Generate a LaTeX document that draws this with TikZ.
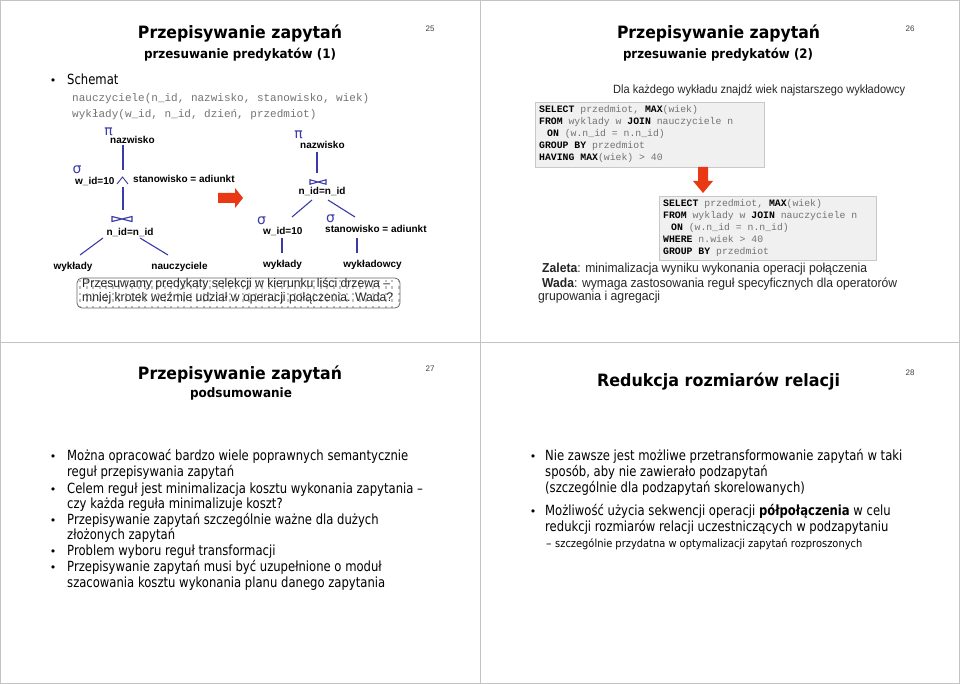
\documentclass[tikz,border=0pt]{standalone}
\usepackage{fontspec}
\usepackage{graphicx}
\setmainfont{DejaVu Sans}
\newfontfamily\tah{DejaVu Sans}
\newfontfamily\hel{Liberation Sans}
\newfontfamily\cour{Liberation Mono}
\newfontfamily\djs{DejaVu Sans}
\newcommand\fw[2]{\resizebox{#1pt}{\height}{#2}}
\newcommand\kw[1]{{\color{black}\bfseries #1}}
\newlength\reflen
\newcommand\bw[1]{\scalebox{\bsc}[1]{#1}}
\definecolor{tblue}{RGB}{58,58,168}
\definecolor{tred}{RGB}{232,56,20}
\definecolor{codegray}{RGB}{115,115,115}
\definecolor{boxfill}{RGB}{240,240,240}
\definecolor{boxline}{RGB}{200,200,200}
\definecolor{framec}{RGB}{195,195,195}
\begin{document}
\settowidth{\reflen}{\tah\fontsize{14}{14}\selectfont Można opracować bardzo wiele poprawnych semantycznie}
\pgfmathsetmacro\bsc{341/\reflen}
\begin{tikzpicture}[x=1pt,y=-1pt,
 t/.style={inner sep=0pt, anchor=west, text height=.75em, text depth=.25em},
 ttl/.style={t, anchor=center, font=\tah\bfseries\fontsize{17}{17}\selectfont},
 sub/.style={t, anchor=center, font=\tah\bfseries\fontsize{13}{13}\selectfont},
 pnum/.style={t, anchor=center, font=\hel\fontsize{8}{8}\selectfont, text=black!75},
 body/.style={t, font=\tah\fontsize{14}{14}\selectfont},
 small/.style={t, font=\tah\fontsize{11}{11}\selectfont},
 bul/.style={t, anchor=center, font=\tah\fontsize{11}{11}\selectfont},
 lbl/.style={t, anchor=center, font=\hel\bfseries\fontsize{10}{10}\selectfont},
 lblw/.style={lbl, anchor=west},
 greek/.style={inner sep=0pt, anchor=center, text=tblue, font=\djs\fontsize{14}{14}\selectfont},
 tree/.style={draw=tblue, line width=1.1pt},
 code/.style={t, font=\cour\fontsize{9.8}{9.8}\selectfont, text=codegray},
 schema/.style={t, font=\cour\fontsize{11}{11}\selectfont, text=codegray},
 codebox/.style={fill=boxfill, draw=boxline, line width=0.8pt},
 hv/.style={t, font=\hel\fontsize{12.5}{12.5}\selectfont, text=black!85},
 redarrow/.style={fill=tred},
]
\useasboundingbox (0,0) rectangle (960,684);
\fill[white] (0,0) rectangle (960,684);
\draw[framec, line width=1pt] (0.5,0.5) rectangle (959.5,683.5);
\draw[framec, line width=1pt] (480,0) -- (480,684);
\draw[framec, line width=1pt] (0,342) -- (960,342);

% ================= slide 25 =================
\node[ttl] (t25) at (240,36) {\fw{204}{Przepisywanie zapytań}};
\node[sub] (s25) at (240,56) {\fw{192}{przesuwanie predykatów (1)}};
\node[pnum] (p25) at (430,29) {25};
\node[bul] (b25) at (53,82) {•};
\node[body] (sch) at (67,82) {\bw{Schemat}};
\node[schema] (sc1) at (72,99) {nauczyciele(n\_id, nazwisko, stanowisko, wiek)};
\node[schema] (sc2) at (72,115) {wykłady(w\_id, n\_id, dzień, przedmiot)};

% left tree
\node[greek] (lpi) at (108.5,131.5) {π};
\node[lblw] (lnaz) at (110,141) {nazwisko};
\coordinate (la1) at (123,145); \coordinate (la2) at (123,170);
\draw[tree] (la1) -- (la2);
\node[greek] (lsig) at (77,170) {σ};
\node[lblw] (lwid) at (75,182) {w\_id=10};
\coordinate (land) at (122.5,177);
\draw[tree, line width=0.9pt] ([xshift=-5.5pt,yshift=-7pt]land) -- (land) -- ([xshift=5.5pt,yshift=-7pt]land);
\node[lblw] (lsta) at (133,180) {stanowisko = adiunkt};
\coordinate (lb1) at (123,187); \coordinate (lb2) at (123,210);
\draw[tree] (lb1) -- (lb2);
\coordinate (ljoin) at (122,219);
\draw[tree] ([xshift=-10pt,yshift=-2.5pt]ljoin) -- ([xshift=-10pt,yshift=2.5pt]ljoin) -- ([xshift=10pt,yshift=-2.5pt]ljoin) -- ([xshift=10pt,yshift=2.5pt]ljoin) -- cycle;
\node[lbl] (lnid) at (130,233) {n\_id=n\_id};
\node[lbl] (lwyk) at (73,267) {wykłady};
\node[lbl] (lnau) at (179.5,267) {nauczyciele};
\coordinate (lc1) at (103,238); \coordinate (lc2) at (80,255);
\coordinate (lc3) at (140,238); \coordinate (lc4) at (168,255);
\draw[tree] (lc1) -- (lc2);
\draw[tree] (lc3) -- (lc4);

% arrow between trees
\fill[redarrow] (218,193) -- (235,193) -- (235,188) -- (243,198) -- (235,208) -- (235,203) -- (218,203) -- cycle;

% right tree
\node[greek] (rpi) at (298.5,135) {π};
\node[lblw] (rnaz) at (300,146) {nazwisko};
\coordinate (ra1) at (317,152); \coordinate (ra2) at (317,173);
\draw[tree] (ra1) -- (ra2);
\coordinate (rjoin) at (318,182);
\draw[tree] ([xshift=-8pt,yshift=-2.2pt]rjoin) -- ([xshift=-8pt,yshift=2.2pt]rjoin) -- ([xshift=8pt,yshift=-2.2pt]rjoin) -- ([xshift=8pt,yshift=2.2pt]rjoin) -- cycle;
\node[lbl] (rnid) at (322,192) {n\_id=n\_id};
\coordinate (rc1) at (312,200); \coordinate (rc2) at (292,217);
\coordinate (rc3) at (328,200); \coordinate (rc4) at (355,217);
\draw[tree] (rc1) -- (rc2);
\draw[tree] (rc3) -- (rc4);
\node[greek] (rsig1) at (261.5,221) {σ};
\node[lblw] (rwid) at (263,232) {w\_id=10};
\node[greek] (rsig2) at (330.5,218.5) {σ};
\node[lblw] (rsta) at (325,230) {stanowisko = adiunkt};
\coordinate (rd1) at (282,238); \coordinate (rd2) at (282,253);
\coordinate (rd3) at (357,238); \coordinate (rd4) at (357,253);
\draw[tree] (rd1) -- (rd2);
\draw[tree] (rd3) -- (rd4);
\node[lbl] (rwyk) at (282.5,265) {wykłady};
\node[lbl] (rwyd) at (372.5,265) {wykładowcy};

% caption box
\begin{scope}
\clip[rounded corners=5pt] (77,278) rectangle (400,308);
\foreach \i in {0,...,49} {
  \foreach \j in {0,...,4} {
    \fill[gray!50] ({79+\i*6.5},{280+\j*6.5}) rectangle +(2.3,2.3);
  }
}
\end{scope}
\draw[black!60, line width=0.8pt, rounded corners=5pt] (77,278) rectangle (400,308);
\node[hv] (cap1) at (82,285) {\fw{308}{Przesuwamy predykaty selekcji w kierunku liści drzewa –}};
\node[hv] (cap2) at (82,299) {\fw{311}{mniej krotek weźmie udział w operacji połączenia. Wada?}};

% ================= slide 26 =================
\node[ttl] (t26) at (718.5,36) {\fw{203}{Przepisywanie zapytań}};
\node[sub] (s26) at (718,56) {\fw{190}{przesuwanie predykatów (2)}};
\node[pnum] (p26) at (910,29) {26};
\node[hv, font=\hel\fontsize{12}{12}\selectfont] (dla) at (613,91) {\fw{292}{Dla każdego wykładu znajdź wiek najstarszego wykładowcy}};

\node[codebox, minimum width=229pt, minimum height=65pt, inner sep=0pt, anchor=north west] (cb1) at (535,102) {};
\node[code] (q11) at (539,110) {\kw{SELECT} przedmiot, \kw{MAX}(wiek)};
\node[code] (q12) at (539,122) {\kw{FROM} wyklady w \kw{JOIN} nauczyciele n};
\node[code] (q13) at (539,134) {\hspace*{8pt}\kw{ON} (w.n\_id = n.n\_id)};
\node[code] (q14) at (539,146) {\kw{GROUP BY} przedmiot};
\node[code] (q15) at (539,158) {\kw{HAVING} \kw{MAX}(wiek) > 40};

\fill[redarrow] (698,167) -- (708,167) -- (708,181) -- (713,181) -- (703,193) -- (693,181) -- (698,181) -- cycle;

\node[codebox, minimum width=217pt, minimum height=64pt, inner sep=0pt, anchor=north west] (cb2) at (659,196) {};
\node[code] (q21) at (663,204) {\kw{SELECT} przedmiot, \kw{MAX}(wiek)};
\node[code] (q22) at (663,216) {\kw{FROM} wyklady w \kw{JOIN} nauczyciele n};
\node[code] (q23) at (663,228) {\hspace*{8pt}\kw{ON} (w.n\_id = n.n\_id)};
\node[code] (q24) at (663,240) {\kw{WHERE} n.wiek > 40};
\node[code] (q25) at (663,252) {\kw{GROUP BY} przedmiot};

\node[hv, font=\hel\fontsize{13}{13}\selectfont] (zal) at (542,270) {\fw{325}{\textbf{Zaleta}: minimalizacja wyniku wykonania operacji połączenia}};
\node[hv, font=\hel\fontsize{13}{13}\selectfont] (wad) at (542,285) {\fw{355}{\textbf{Wada}: wymaga zastosowania reguł specyficznych dla operatorów}};
\node[hv, font=\hel\fontsize{13}{13}\selectfont] (gru) at (538,298) {\fw{122}{grupowania i agregacji}};

% ================= slide 27 =================
\node[ttl] (t27) at (240,377) {\fw{204}{Przepisywanie zapytań}};
\node[sub] (s27) at (241,395) {\fw{102}{podsumowanie}};
\node[pnum] (p27) at (430,369) {27};
\node[bul] (b27a) at (53,458) {•};
\node[body] (l27a) at (67,458) {\bw{Można opracować bardzo wiele poprawnych semantycznie}};
\node[body] (l27b) at (67,474) {\bw{reguł przepisywania zapytań}};
\node[bul] (b27b) at (53,491) {•};
\node[body] (l27c) at (67,491) {\bw{Celem reguł jest minimalizacja kosztu wykonania zapytania –}};
\node[body] (l27d) at (67,506) {\bw{czy każda reguła minimalizuje koszt?}};
\node[bul] (b27c) at (53,522) {•};
\node[body] (l27e) at (67,522) {\bw{Przepisywanie zapytań szczególnie ważne dla dużych}};
\node[body] (l27f) at (67,537) {\bw{złożonych zapytań}};
\node[bul] (b27d) at (53,553) {•};
\node[body] (l27g) at (67,553) {\bw{Problem wyboru reguł transformacji}};
\node[bul] (b27e) at (53,569) {•};
\node[body] (l27h) at (67,569) {\bw{Przepisywanie zapytań musi być uzupełnione o moduł}};
\node[body] (l27i) at (67,585) {\bw{szacowania kosztu wykonania planu danego zapytania}};

% ================= slide 28 =================
\node[ttl] (t28) at (718.5,384) {\fw{243}{Redukcja rozmiarów relacji}};
\node[pnum] (p28) at (910,373) {28};
\node[bul] (b28a) at (533,458) {•};
\node[body] (l28a) at (545,458) {\bw{Nie zawsze jest możliwe przetransformowanie zapytań w taki}};
\node[body] (l28b) at (545,474) {\bw{sposób, aby nie zawierało podzapytań}};
\node[body] (l28c) at (545,490) {\bw{(szczególnie dla podzapytań skorelowanych)}};
\node[bul] (b28b) at (533,513) {•};
\node[body] (l28d) at (545,513) {\bw{Możliwość użycia sekwencji operacji \textbf{półpołączenia} w celu}};
\node[body] (l28e) at (545,529) {\bw{redukcji rozmiarów relacji uczestniczących w podzapytaniu}};
\node[small] (d28) at (546,545) {–};
\node[small] (l28f) at (555,545) {\fw{307}{szczególnie przydatna w optymalizacji zapytań rozproszonych}};
\end{tikzpicture}
\end{document}
